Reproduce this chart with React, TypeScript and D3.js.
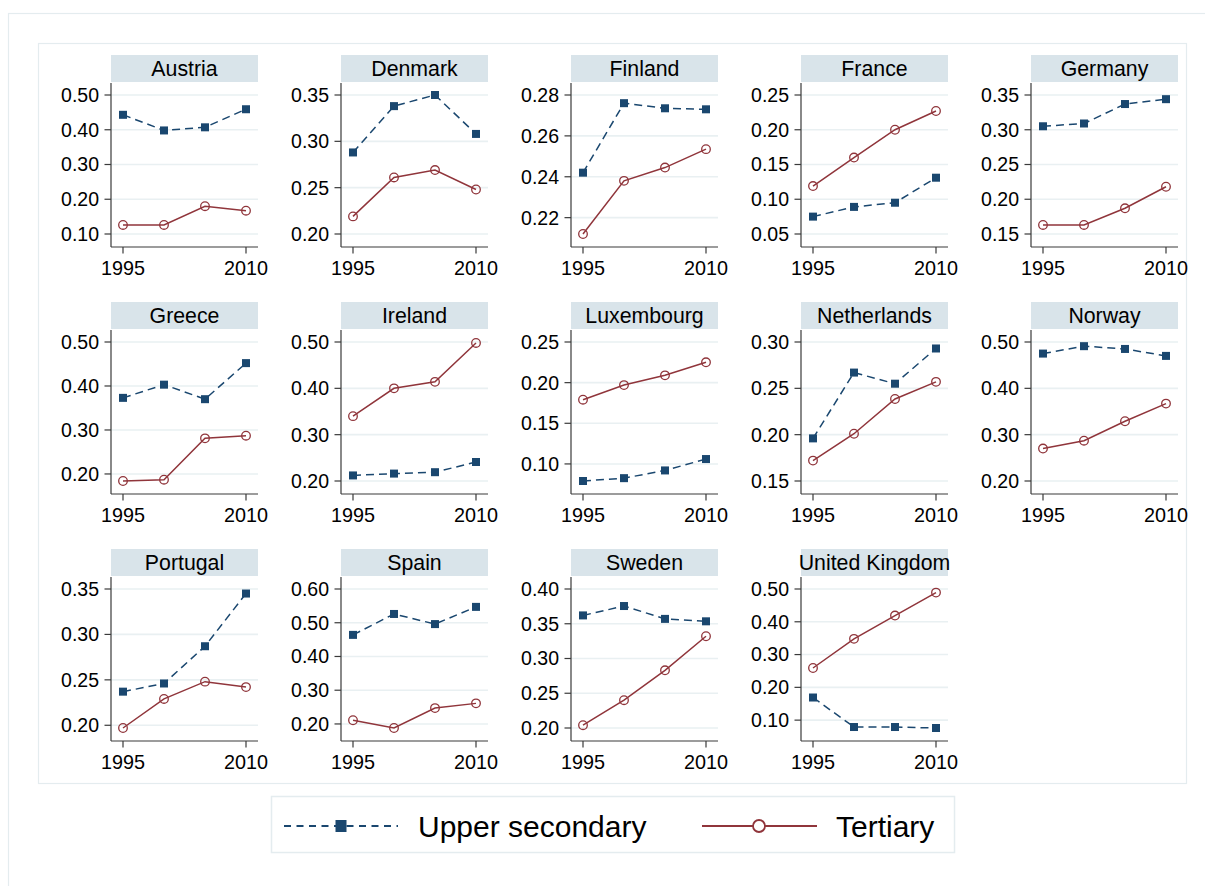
import React, { useEffect } from "react";
import * as d3 from "d3";

const countries = [
  "Austria", "Denmark", "Finland", "France", "Germany",
  "Greece", "Ireland", "Luxembourg", "Netherlands", "Norway",
  "Portugal", "Spain", "Sweden", "United Kingdom",
];
const years = [1995, 2000, 2005, 2010];
const xTickYears = [1995, 2010];

const upperSecondary = [
  [0.443, 0.398, 0.407, 0.459],
  [0.288, 0.338, 0.350, 0.308],
  [0.242, 0.276, 0.2735, 0.273],
  [0.075, 0.089, 0.095, 0.131],
  [0.305, 0.309, 0.337, 0.344],
  [0.373, 0.403, 0.370, 0.452],
  [0.212, 0.216, 0.219, 0.241],
  [0.079, 0.0825, 0.092, 0.106],
  [0.196, 0.267, 0.255, 0.293],
  [0.475, 0.491, 0.485, 0.470],
  [0.237, 0.246, 0.287, 0.345],
  [0.464, 0.526, 0.496, 0.547],
  [0.362, 0.3755, 0.357, 0.3535],
  [0.169, 0.079, 0.079, 0.076],
];

const tertiary = [
  [0.126, 0.126, 0.180, 0.167],
  [0.219, 0.261, 0.269, 0.248],
  [0.212, 0.238, 0.2445, 0.2535],
  [0.119, 0.160, 0.200, 0.227],
  [0.163, 0.163, 0.187, 0.218],
  [0.184, 0.187, 0.281, 0.287],
  [0.340, 0.400, 0.414, 0.498],
  [0.179, 0.197, 0.209, 0.225],
  [0.172, 0.201, 0.2385, 0.257],
  [0.270, 0.287, 0.329, 0.367],
  [0.197, 0.229, 0.248, 0.242],
  [0.211, 0.188, 0.247, 0.261],
  [0.204, 0.240, 0.283, 0.332],
  [0.259, 0.348, 0.419, 0.489],
];

const yTicks = [
  [0.10, 0.20, 0.30, 0.40, 0.50],
  [0.20, 0.25, 0.30, 0.35],
  [0.22, 0.24, 0.26, 0.28],
  [0.05, 0.10, 0.15, 0.20, 0.25],
  [0.15, 0.20, 0.25, 0.30, 0.35],
  [0.20, 0.30, 0.40, 0.50],
  [0.20, 0.30, 0.40, 0.50],
  [0.10, 0.15, 0.20, 0.25],
  [0.15, 0.20, 0.25, 0.30],
  [0.20, 0.30, 0.40, 0.50],
  [0.20, 0.25, 0.30, 0.35],
  [0.20, 0.30, 0.40, 0.50, 0.60],
  [0.20, 0.25, 0.30, 0.35, 0.40],
  [0.10, 0.20, 0.30, 0.40, 0.50],
];

const seriesNames = ["Upper secondary", "Tertiary"];

const NAVY = "#1a476f";
const MAROON = "#90353b";
const STRIP = "#d9e4ea";
const GRID = "#e9f0f2";
const FRAME = "#e4ecef";
const AXIS = "#3a3a3a";
const FONT = "'Liberation Sans', Arial, Helvetica, sans-serif";

const COL0 = 111;
const COLSTEP = 230;
const ROW0 = 55;
const ROWSTEP = 247;
const PW = 147;
const STRIP_H = 27;

function Panel({ idx }: { idx: number }) {
  const col = idx % 5;
  const row = Math.floor(idx / 5);
  const left = COL0 + col * COLSTEP;
  const top = ROW0 + row * ROWSTEP;
  const plotTop = top + STRIP_H + 1;
  const plotBottom = top + 192;
  const right = left + PW;

  const ticks = yTicks[idx];
  const vals = [...upperSecondary[idx], ...tertiary[idx], ...ticks];
  const lo = d3.min(vals) as number;
  const hi = d3.max(vals) as number;
  const y = d3.scaleLinear().domain([lo, hi]).range([plotBottom - 13, plotTop + 12]);
  const x = d3.scaleLinear().domain([1995, 2010]).range([left + 12, right - 12]);
  const line = d3
    .line<number>()
    .x((_, i) => x(years[i]))
    .y((v) => y(v));
  const fmt = d3.format(".2f");

  return (
    <g>
      <rect x={left} y={top} width={PW} height={STRIP_H} fill={STRIP} />
      <text
        x={left + PW / 2}
        y={top + 21}
        textAnchor="middle"
        fontSize={21.3}
        fontFamily={FONT}
        fill="#000"
      >
        {countries[idx]}
      </text>
      {ticks.map((t) => (
        <line key={"g" + t} x1={left} x2={right} y1={y(t)} y2={y(t)} stroke={GRID} strokeWidth={1.6} />
      ))}
      <line x1={left} x2={left} y1={plotTop} y2={plotBottom} stroke={AXIS} strokeWidth={1.2} />
      <line x1={left} x2={right} y1={plotBottom} y2={plotBottom} stroke={AXIS} strokeWidth={1.2} />
      {ticks.map((t) => (
        <g key={"t" + t}>
          <line x1={left - 6.5} x2={left} y1={y(t)} y2={y(t)} stroke={AXIS} strokeWidth={1.2} />
          <text
            x={left - 12}
            y={y(t) + 6.9}
            textAnchor="end"
            fontSize={19.5}
            fontFamily={FONT}
            fill="#000"
          >
            {fmt(t)}
          </text>
        </g>
      ))}
      {xTickYears.map((yr) => (
        <g key={"x" + yr}>
          <line x1={x(yr)} x2={x(yr)} y1={plotBottom} y2={plotBottom + 6.5} stroke={AXIS} strokeWidth={1.2} />
          <text
            x={x(yr)}
            y={plotBottom + 28}
            textAnchor="middle"
            fontSize={19.8}
            fontFamily={FONT}
            fill="#000"
          >
            {yr}
          </text>
        </g>
      ))}
      <path d={line(upperSecondary[idx]) || ""} fill="none" stroke={NAVY} strokeWidth={1.5} strokeDasharray="8,5" />
      {upperSecondary[idx].map((v, i) => (
        <rect key={"u" + i} x={x(years[i]) - 4} y={y(v) - 4} width={8} height={8} fill={NAVY} />
      ))}
      <path d={line(tertiary[idx]) || ""} fill="none" stroke={MAROON} strokeWidth={1.5} />
      {tertiary[idx].map((v, i) => (
        <circle key={"t" + i} cx={x(years[i])} cy={y(v)} r={4.3} fill="none" stroke={MAROON} strokeWidth={1.3} />
      ))}
    </g>
  );
}

export default function App() {
  useEffect(() => {
    document.body.style.margin = "0";
    document.body.style.overflow = "hidden";
  }, []);
  const legY = 826;
  return (
    <svg width={1205} height={886} style={{ display: "block", background: "#fff" }}>
      <rect x={0} y={0} width={1205} height={886} fill="#fff" />
      <rect x={8.5} y={13.5} width={1210} height={890} fill="none" stroke={FRAME} strokeWidth={1.2} />
      <rect x={38.5} y={43.5} width={1148} height={740} fill="#fff" stroke={FRAME} strokeWidth={1.2} />
      {countries.map((_, i) => (
        <Panel key={i} idx={i} />
      ))}
      <rect x={271.5} y={796.5} width={683} height={56} fill="#fff" stroke={FRAME} strokeWidth={1.5} />
      <line x1={284} x2={398} y1={legY} y2={legY} stroke={NAVY} strokeWidth={2} strokeDasharray="7,5.5" />
      <rect x={341 - 5.5} y={legY - 6} width={11} height={12} fill={NAVY} />
      <text x={418} y={legY + 10.5} fontSize={30} fontFamily={FONT} fill="#000">
        {seriesNames[0]}
      </text>
      <line x1={702} x2={817} y1={legY} y2={legY} stroke={MAROON} strokeWidth={2} />
      <circle cx={759} cy={legY} r={6} fill="#fff" stroke={MAROON} strokeWidth={1.8} />
      <text x={836} y={legY + 10.5} fontSize={30} fontFamily={FONT} fill="#000">
        {seriesNames[1]}
      </text>
    </svg>
  );
}
